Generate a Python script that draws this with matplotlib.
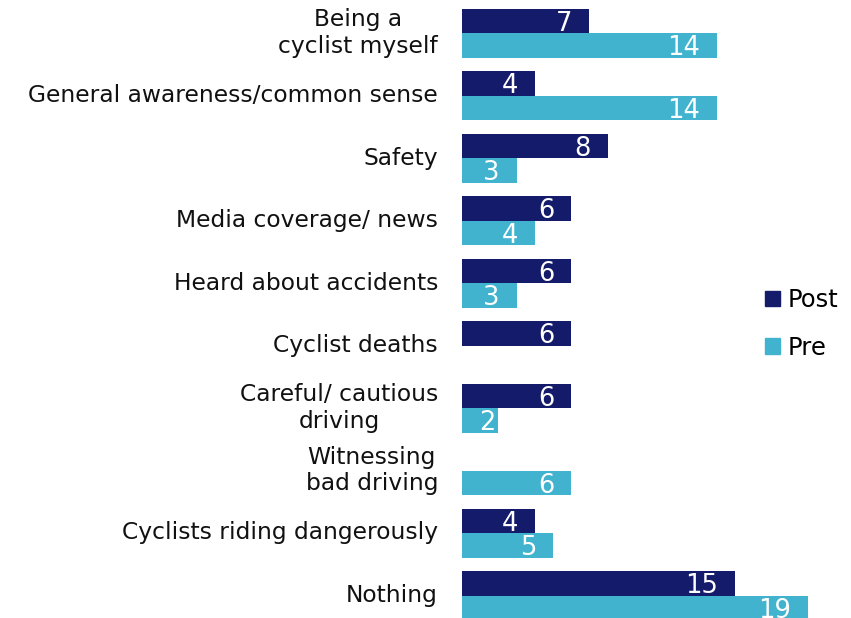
import matplotlib
matplotlib.use('Agg')
import matplotlib.pyplot as plt
from matplotlib.patches import Patch
import numpy as np

# categories, top to bottom
categories = [
    'Being a\ncyclist myself',
    'General awareness/common sense',
    'Safety',
    'Media coverage/ news',
    'Heard about accidents',
    'Cyclist deaths',
    'Careful/ cautious\ndriving',
    'Witnessing\nbad driving',
    'Cyclists riding dangerously',
    'Nothing',
]
post = [7, 4, 8, 6, 6, 6, 6, 0, 4, 15]
pre = [14, 14, 3, 4, 3, 0, 2, 6, 5, 19]

POST_COLOR = '#141b6a'
PRE_COLOR = '#41b3cf'

plt.rcParams['font.family'] = ['DejaVu Sans']

fig = plt.figure(figsize=(8.51, 6.18), dpi=100)
ax = fig.add_axes([462 / 851, 0, 364 / 851, 1])
ax.set_xlim(0, 20)
ax.set_ylim(9.36, -0.528)

y = np.arange(len(categories))
h = 0.392
ax.barh(y - h / 2, post, height=h, color=POST_COLOR, label='Post')
ax.barh(y + h / 2, pre, height=h, color=PRE_COLOR, label='Pre')

# value labels inside the bar ends (short bars: from the bar start)
px_per_unit = 364 / 20
for vals, off in ((post, -h / 2), (pre, h / 2)):
    for yi, v in zip(y, vals):
        if not v:
            continue
        if v * px_per_unit > 50:
            ax.annotate(str(v), (v, yi + off), xytext=(-17, -10), textcoords='offset pixels',
                        ha='right', va='baseline', color='white', fontsize=18.5)
        else:
            ax.annotate(str(v), (0, yi + off), xytext=(17, -10), textcoords='offset pixels',
                        ha='left', va='baseline', color='white', fontsize=18.5)

# category labels
for yi, cat in zip(y, categories):
    ax.annotate(cat, (0, yi), xytext=(-24, 0), textcoords='offset pixels',
                ha='right', va='center', multialignment='center',
                fontsize=16.8, color='#111111', linespacing=1.2)

ax.axis('off')

handles = [Patch(color=POST_COLOR, label='Post'), Patch(color=PRE_COLOR, label='Pre')]
fig.legend(handles=handles, loc='center left', bbox_to_anchor=(743 / 851, 1 - 324 / 618),
           frameon=False, fontsize=17.5, handlelength=0.62, handleheight=0.58,
           handletextpad=0.3, labelspacing=0.95)

fig.savefig('out.png', dpi=100)
